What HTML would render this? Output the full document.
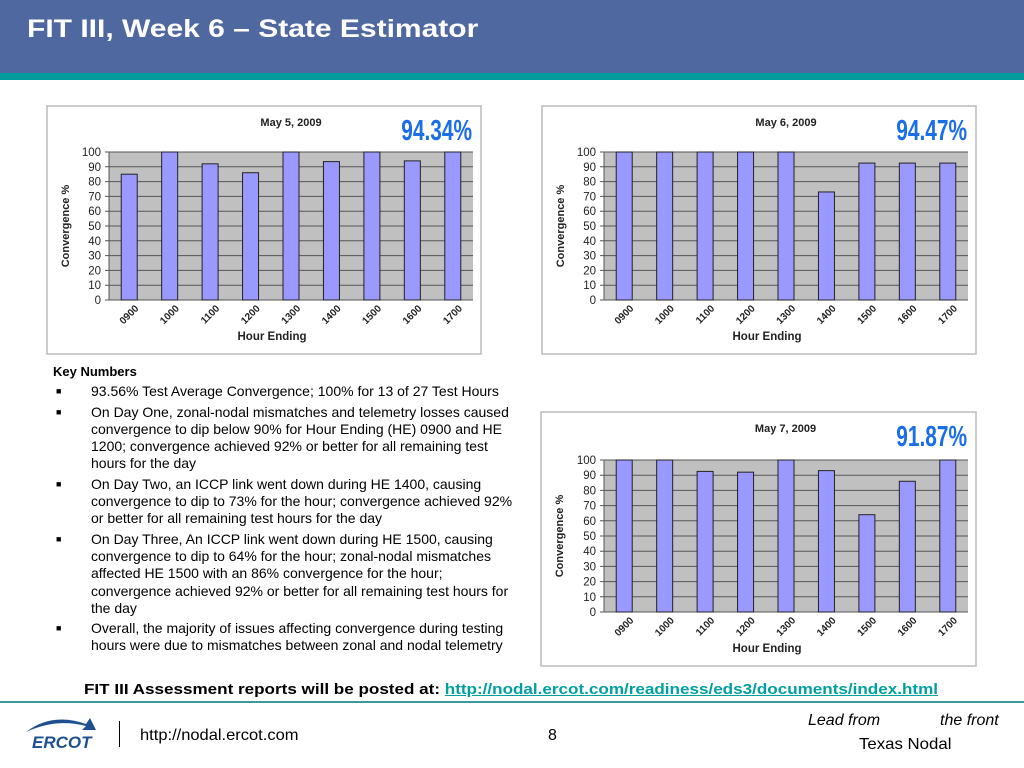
<!DOCTYPE html>
<html><head><meta charset="utf-8"><style>
body{margin:0;width:1024px;height:768px;position:relative;overflow:hidden;background:#fff;font-family:"Liberation Sans",sans-serif}
.abs{position:absolute}
.kn{font-size:14px;line-height:17.3px;color:#000;white-space:nowrap}
.b{position:absolute;left:56px;font-size:9px}
</style></head><body>
<div class="abs" style="left:0;top:0;width:1024px;height:73px;background:#5068a0"></div>
<div class="abs" style="left:0;top:73px;width:1024px;height:7px;background:#009c9c"></div>
<div class="abs" style="left:27px;top:15px;color:#fff;font-weight:bold;font-size:25px;transform:scaleX(1.2);transform-origin:left top;white-space:nowrap">FIT III, Week 6 – State Estimator</div>

<svg class="abs" style="left:0;top:0" width="1024" height="768" id="charts"></svg>

<div class="abs kn" style="left:53px;top:363px">
<div style="font-weight:bold;font-size:13px">Key Numbers</div>
<div style="position:relative;padding-left:38px;margin-top:3px"><span class="b" style="left:3px">■</span>93.56% Test Average Convergence; 100% for 13 of 27 Test Hours</div>
<div style="position:relative;padding-left:38px;margin-top:3px"><span class="b" style="left:3px">■</span>On Day One, zonal-nodal mismatches and telemetry losses caused<br>convergence to dip below 90% for Hour Ending (HE) 0900 and HE<br>1200; convergence achieved 92% or better for all remaining test<br>hours for the day</div>
<div style="position:relative;padding-left:38px;margin-top:3px"><span class="b" style="left:3px">■</span>On Day Two, an ICCP link went down during HE 1400, causing<br>convergence to dip to 73% for the hour; convergence achieved 92%<br>or better for all remaining test hours for the day</div>
<div style="position:relative;padding-left:38px;margin-top:3px"><span class="b" style="left:3px">■</span>On Day Three, An ICCP link went down during HE 1500, causing<br>convergence to dip to 64% for the hour; zonal-nodal mismatches<br>affected HE 1500 with an 86% convergence for the hour;<br>convergence achieved 92% or better for all remaining test hours for<br>the day</div>
<div style="position:relative;padding-left:38px;margin-top:3px"><span class="b" style="left:3px">■</span>Overall, the majority of issues affecting convergence during testing<br>hours were due to mismatches between zonal and nodal telemetry</div>
</div>

<div class="abs" style="left:84px;top:681px;font-size:15px;font-weight:bold;white-space:nowrap;transform:scaleX(1.138);transform-origin:left top">FIT III Assessment reports will be posted at: <a style="color:#00a0a0;text-decoration:underline">http://nodal.ercot.com/readiness/eds3/documents/index.html</a></div>
<div class="abs" style="left:0;top:701px;width:1024px;height:2px;background:#3a9a9a"></div>
<div class="abs" style="left:22px;top:716px;width:78px;height:34px">
<svg width="78" height="34"><path d="M4 16 Q30 -4 64 8 L68 2 L74 14 L60 14 L64 10 Q34 2 4 16Z" fill="#1f4f8f"/><text x="10" y="32" font-family="Liberation Sans" font-weight="bold" font-style="italic" font-size="17" fill="#1f4f8f">ERCOT</text></svg></div>
<div class="abs" style="left:119px;top:721px;width:1px;height:26px;background:#000"></div>
<div class="abs" style="left:140px;top:727px;font-size:16px;transform:scaleX(1.03);transform-origin:left top">http://nodal.ercot.com</div>
<div class="abs" style="left:548px;top:727px;font-size:16px">8</div>
<div class="abs" style="left:808px;top:712px;font-size:16px;font-style:italic;white-space:nowrap">Lead from<span style="margin-left:60px">the front</span></div>
<div class="abs" style="left:859px;top:736px;font-size:16px;transform:scaleX(1.05);transform-origin:left top">Texas Nodal</div>

<script>
const hours = ["0900","1000","1100","1200","1300","1400","1500","1600","1700"];
const yTicks = [0,10,20,30,40,50,60,70,80,90,100];
const day1Values = [85,100,92,86,100,93.5,100,94,100];
const day2Values = [100,100,100,100,100,73,92.5,92.5,92.5];
const day3Values = [100,100,92.5,92,100,93,64,86,100];
const chartTitles = ["May 5, 2009","May 6, 2009","May 7, 2009"];
const chartAverages = ["94.34%","94.47%","91.87%"];

const svg = document.getElementById('charts');
const NS = 'http://www.w3.org/2000/svg';
function mk(tag, attrs, parent, text){
  const e = document.createElementNS(NS, tag);
  for (const k in attrs) e.setAttribute(k, attrs[k]);
  if (text !== undefined) e.textContent = text;
  (parent||svg).appendChild(e);
  return e;
}
function drawChart(idx, values, fx, fy, fw, fh, px0, px1, py0, py1){
  const g = mk('g', {});
  
  
  const frame = mk('rect', {x:fx, y:fy, width:fw, height:fh, fill:'#fff', stroke:'#bbb', 'stroke-width':1.5}, g);
  
  
  const plot = mk('rect', {x:px0, y:py1, width:px1-px0, height:py0-py1, fill:'#c0c0c0'}, g);
  
  
  const yS = v => py0 - (v/100)*(py0-py1);
  const step = (px1-px0)/hours.length;
  const xS = i => px0 + step*(i+0.5);
  yTicks.forEach(t => {
    mk('line', {x1:px0-4, x2:px1, y1:yS(t), y2:yS(t), stroke:'#555', 'stroke-width':1}, g);
    const tl = mk('text', {x:px0-8, y:yS(t)+4, 'text-anchor':'end', 'font-size':11.5, fill:'#222'}, g, t);
    
    
  });
  mk('line', {x1:px0, x2:px0, y1:py1, y2:py0, stroke:'#555'}, g);
  values.forEach((v,i) => {
    const bar = mk('rect', {x:xS(i)-8, y:yS(v), width:16, height:py0-yS(v), fill:'#9999ff', stroke:'#222', 'stroke-width':1}, g);
    
    
    const lx = xS(i)+10, ly = py0+9;
    const xl = mk('text', {x:lx, y:ly, 'text-anchor':'end', 'font-size':10, 'font-weight':'bold', fill:'#222', transform:'rotate(-45 '+lx+' '+ly+')'}, g, hours[i]);
    
    
  });
  const t = mk('text', {x:fx+fw/2+27, y:fy+20, 'text-anchor':'middle', 'font-size':11, 'font-weight':'bold', fill:'#222'}, g, chartTitles[idx]);
  
  
  const ax = fx+fw-9, ay = fy+34;
  const a = mk('text', {x:0, y:0, 'text-anchor':'end', 'font-size':29, 'font-weight':'bold', fill:'#1a6ee8', transform:'translate('+ax+' '+ay+') scale(0.72 1)'}, g, chartAverages[idx]);
  
  
  const yt = mk('text', {x:0, y:0, 'text-anchor':'middle', 'font-size':11, 'font-weight':'bold', fill:'#222', transform:'translate('+(fx+22)+' '+((py0+py1)/2)+') rotate(-90)'}, g, 'Convergence %');
  
  
  const xt = mk('text', {x:(px0+px1)/2-19, y:fy+fh-14, 'text-anchor':'middle', 'font-size':11.5, 'font-weight':'bold', fill:'#222'}, g, 'Hour Ending');
  
  
}
drawChart(0, day1Values, 47,106,434,248, 109,473,300,152);
drawChart(1, day2Values, 542,106,434,248, 604,968,300,152);
drawChart(2, day3Values, 541,412,435,254, 604,968,612,460);
</script>
</body></html>
